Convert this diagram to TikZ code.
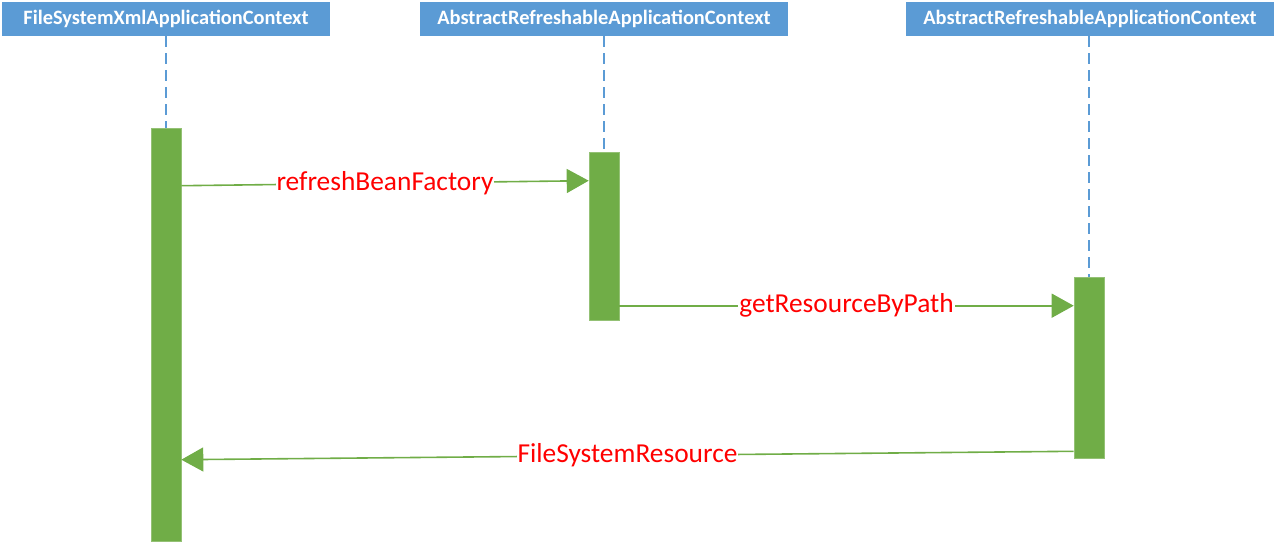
\documentclass[tikz,border=0pt]{standalone}
\usepackage{fontspec}
\setmainfont{Carlito}
\usepackage{tikz}
\usetikzlibrary{arrows.meta,calc}
\definecolor{hdrblue}{HTML}{5B9BD5}
\definecolor{bargreen}{HTML}{70AD47}
\definecolor{msgred}{HTML}{FF0000}
\newcommand{\MSG}[1]{\textcolor{msgred}{#1}}

\begin{document}
\begin{tikzpicture}[x=1pt, y=-1pt,
  hdr/.style={fill=hdrblue, text=white, inner sep=0pt, minimum height=34pt,
    font=\fontsize{20.4}{22}\selectfont\bfseries},
  bar/.style={fill=bargreen, draw=bargreen!75!white, line width=0.6pt,
    minimum width=30pt, inner sep=0pt},
  life/.style={draw=hdrblue, line width=1.3pt, dash pattern=on 11pt off 6pt},
  msg/.style={draw=bargreen, line width=1.6pt,
    -{Triangle[length=22pt, width=24pt]}},
  lbl/.style={fill=white, inner sep=1pt, font=\fontsize{27.4}{29}\selectfont}]

  \useasboundingbox (0,0) rectangle (1276,545);

  %% headers
  \node[hdr, minimum width=328pt] (ctxA) at (166,19) {FileSystemXmlApplicationContext};
  \node[hdr, minimum width=368pt] (ctxB) at (604,19) {AbstractRefreshableApplicationContext};
  \node[hdr, minimum width=368pt] (ctxC) at (1090,19) {AbstractRefreshableApplicationContext};

  %% activation bars
  \node[bar, minimum height=413pt] (barA) at (166,334.5) {};
  \node[bar, minimum height=168pt] (barB) at (604,236) {};
  \node[bar, minimum height=181pt] (barC) at (1089,367.5) {};

  %% lifelines
  \draw[life] (ctxA.south) -- (barA.north);
  \draw[life] (ctxB.south) -- (barB.north);
  \draw[life] (barC.north |- ctxC.south) -- (barC.north);

  %% messages
  \draw[msg] ($(barA.north east)+(0,58)$) --
    node[lbl]{\MSG{refreshBeanFactory}}
    ($(barB.north west)+(0,29)$); %% A->B
  \draw[msg] ($(barB.north east)+(0,154)$) --
    node[lbl]{\MSG{getResourceByPath}}
    ($(barC.north west)+(0,29)$); %% B->C
  \draw[msg] ($(barC.south west)+(0,-7)$) --
    node[lbl]{\MSG{FileSystemResource}}
    ($(barA.north east)+(0,332)$); %% C->A
\end{tikzpicture}
\end{document}
